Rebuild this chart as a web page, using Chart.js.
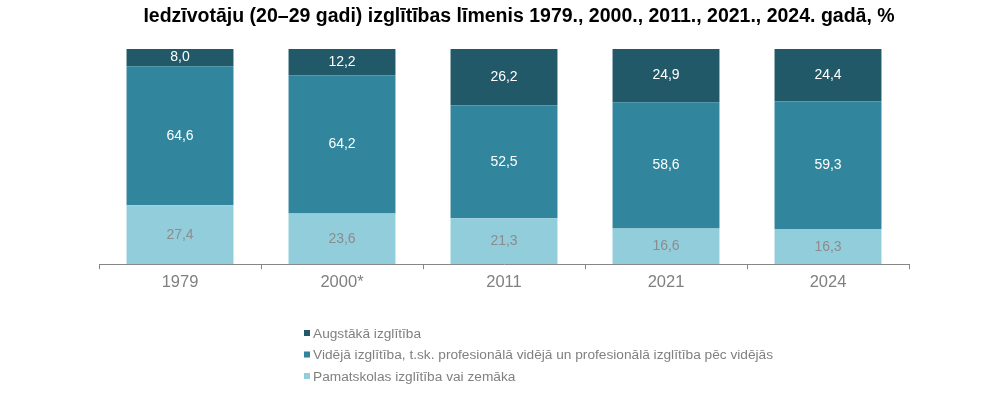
<!DOCTYPE html>
<html>
<head>
<meta charset="utf-8">
<script src="https://cdn.jsdelivr.net/npm/chart.js@4/dist/chart.umd.min.js"></script>
<style>
  html, body { margin: 0; padding: 0; background: #fff; }
  #wrap { width: 1000px; height: 397px; position: relative; }
</style>
</head>
<body>
<div id="wrap"><canvas id="myChart" width="1000" height="397"></canvas></div>
<script>
const title = "Iedzīvotāju (20–29 gadi) izglītības līmenis 1979., 2000., 2011., 2021., 2024. gadā, %";
const years = ["1979", "2000*", "2011", "2021", "2024"];
const basic = [27.4, 23.6, 21.3, 16.6, 16.3];
const secondary = [64.6, 64.2, 52.5, 58.6, 59.3];
const higher = [8.0, 12.2, 26.2, 24.9, 24.4];
const labels = [
  "Augstākā izglītība",
  "Vidējā izglītība, t.sk. profesionālā vidējā un profesionālā izglītība pēc vidējās",
  "Pamatskolas izglītība vai zemāka"
];

const FONT = "'Liberation Sans', Arial, sans-serif";
const fmt = v => v.toFixed(1).replace(".", ",");

// value labels in the middle of each segment
const barLabels = {
  id: "barLabels",
  afterDatasetsDraw(chart) {
    const c = chart.ctx;
    c.save();
    c.font = "14px " + FONT;
    c.textAlign = "center";
    c.textBaseline = "middle";
    chart.data.datasets.forEach((ds, i) => {
      chart.getDatasetMeta(i).data.forEach((bar, j) => {
        const p = bar.getProps(["x", "y", "base"], true);
        c.fillStyle = ds.labelColor;
        c.fillText(fmt(ds.data[j]), p.x, (p.y + p.base) / 2);
      });
    });
    c.restore();
  }
};

// title, category ticks + vertical legend
const extras = {
  id: "extras",
  afterDraw(chart) {
    const c = chart.ctx;
    c.save();
    c.fillStyle = "#000";
    c.font = "bold 19.5px " + FONT;
    c.textAlign = "center";
    c.textBaseline = "alphabetic";
    c.fillText(title, 519, 22);

    const xs = chart.scales.x;
    c.strokeStyle = "#868686";
    c.lineWidth = 1;
    const step = (xs.right - xs.left) / years.length;
    for (let k = 0; k <= years.length; k++) {
      const x = Math.round(xs.left + k * step) + 0.5;
      c.beginPath();
      c.moveTo(x, xs.top);
      c.lineTo(x, xs.top + 5);
      c.stroke();
    }

    c.font = "13.7px " + FONT;
    c.textAlign = "left";
    c.textBaseline = "middle";
    const order = [2, 1, 0];
    order.forEach((di, r) => {
      const ds = chart.data.datasets[di];
      const y = 333 + r * 21.5;
      c.fillStyle = ds.backgroundColor;
      c.fillRect(304, y - 3, 6, 6);
      c.fillStyle = "#808080";
      c.fillText(ds.label, 313, y + 1);
    });
    c.restore();
  }
};

const config = {
  type: "bar",
  data: {
    labels: years,
    datasets: [
      { label: labels[2], data: basic, backgroundColor: "#92CDDC", labelColor: "#8c8c8c" },
      { label: labels[1], data: secondary, backgroundColor: "#31859C", labelColor: "#ffffff" },
      { label: labels[0], data: higher, backgroundColor: "#215968", labelColor: "#ffffff" }
    ]
  },
  options: {
    responsive: false,
    animation: false,
    layout: { padding: { left: 99, right: 91, top: 49, bottom: 97 } },
    datasets: { bar: { categoryPercentage: 0.66, barPercentage: 1, borderWidth: 0 } },
    plugins: { legend: { display: false }, title: { display: false }, tooltip: { enabled: false } },
    scales: {
      x: {
        stacked: true,
        grid: { display: false, drawTicks: false },
        border: { display: true, color: "#868686" },
        ticks: { color: "#808080", font: { size: 16.5, family: FONT }, padding: 8 }
      },
      y: {
        stacked: true,
        display: false,
        min: 0,
        max: 100
      }
    }
  },
  plugins: [barLabels, extras]
};

const myChart = new Chart(document.getElementById("myChart").getContext("2d"), config);
</script>
</body>
</html>
